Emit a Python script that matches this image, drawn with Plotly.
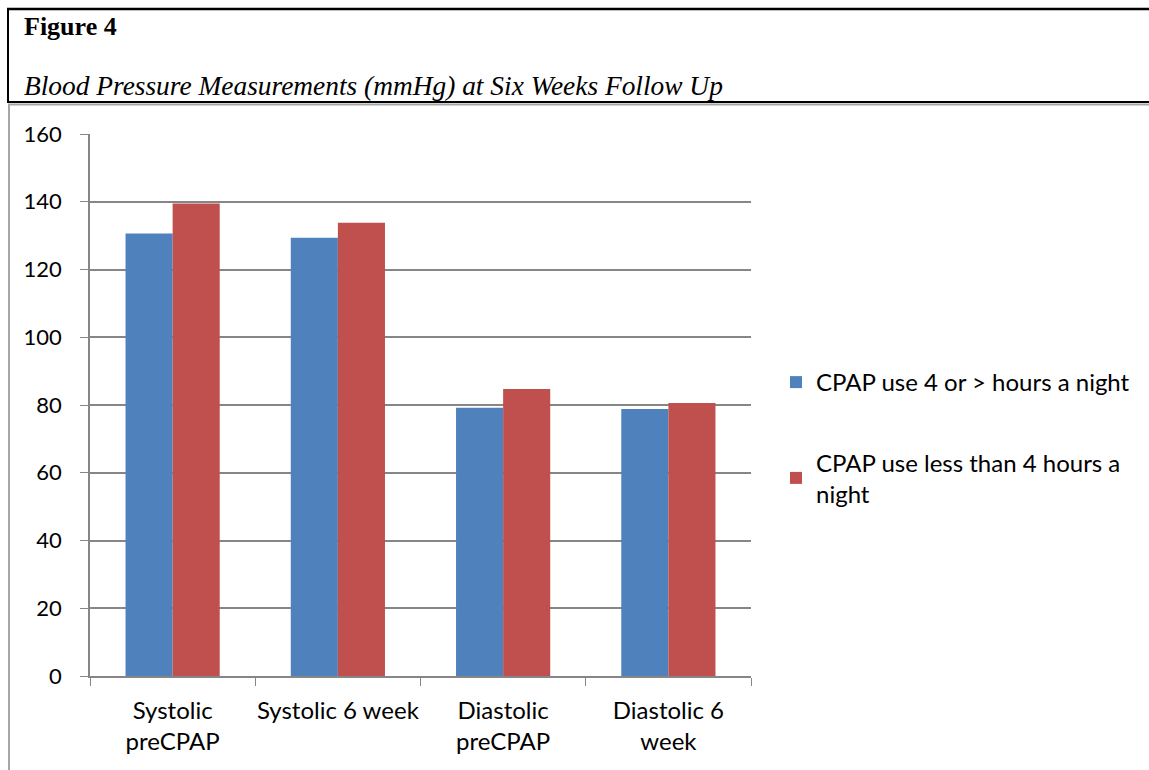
import plotly.graph_objects as go

categories = ["Systolic<br>preCPAP", "Systolic 6 week", "Diastolic<br>preCPAP", "Diastolic 6<br>week"]
series_names = ["CPAP use 4 or > hours a night", "CPAP use less than 4 hours a<br>night"]
values_high_use = [130.6, 129.4, 79.2, 78.8]
values_low_use = [139.5, 133.8, 84.7, 80.6]
colors = ["#4F81BD", "#C0504D"]
y_ticks = [0, 20, 40, 60, 80, 100, 120, 140, 160]

W, H = 1149, 770
L, R, T, B = 90, 751, 134, 676

fig = go.Figure()
for i, (name, vals) in enumerate(zip(series_names, [values_high_use, values_low_use])):
    fig.add_trace(go.Bar(
        x=categories, y=vals, name=name, marker_color=colors[i],
        marker_line_width=0, legendgroup=f"g{i}",
    ))

def px_x(p):
    return (p - L) / (R - L)

def px_y(p):
    return (B - p) / (B - T)

shapes = []
def line(x0, y0, x1, y1, color, width):
    shapes.append(dict(type="line", xref="paper", yref="paper",
                       x0=px_x(x0), y0=px_y(y0), x1=px_x(x1), y1=px_y(y1),
                       line=dict(color=color, width=width)))

line(7, 9, W, 9, "black", 2.5)
line(8, 9, 8, 102, "black", 2)
line(7, 102, W, 102, "black", 2)
line(8, 104.5, W, 104.5, "#a6a6a6", 2)
line(9, 104, 9, H, "#a6a6a6", 2)

fig.update_layout(
    width=W, height=H,
    margin=dict(l=L, r=W - R, t=T, b=H - B, autoexpand=False),
    paper_bgcolor="white", plot_bgcolor="white",
    barmode="group", bargap=0.43, bargroupgap=0,
    font=dict(family="Lato, Carlito, sans-serif", size=24, color="black"),
    shapes=shapes,
    showlegend=True,
    legend=dict(x=px_x(776), y=px_y(360), xanchor="left", yanchor="top",
                traceorder="grouped", tracegroupgap=46,
                font=dict(size=24), itemwidth=30, bgcolor="rgba(0,0,0,0)"),
    annotations=[
        dict(text="<b>Figure 4</b>", xref="paper", yref="paper",
             x=px_x(22), y=px_y(27), xanchor="left", yanchor="middle", showarrow=False,
             font=dict(family="Liberation Serif, Times New Roman, serif", size=26, color="black")),
        dict(text="<i>Blood Pressure Measurements (mmHg) at Six Weeks Follow Up</i>", xref="paper", yref="paper",
             x=px_x(22), y=px_y(86), xanchor="left", yanchor="middle", showarrow=False,
             font=dict(family="Liberation Serif, Times New Roman, serif", size=27.4, color="black")),
    ],
)

fig.update_yaxes(
    range=[0, 160], tickvals=y_ticks, showgrid=True, gridcolor="#868686", gridwidth=1.8,
    showline=True, linecolor="#868686", linewidth=1.8, ticks="outside", ticklen=8,
    tickcolor="#868686", ticklabelstandoff=14, zeroline=False, tickfont=dict(size=22),
)
fig.update_xaxes(
    showline=True, linecolor="#868686", linewidth=1.8, ticks="outside", ticklen=8,
    tickcolor="#868686", tickson="boundaries", ticklabelstandoff=12, showgrid=False,
    tickfont=dict(size=24), tickangle=0,
)

fig.write_html("out.html", config={"displayModeBar": False},
               post_script="document.body.style.margin='0';document.body.style.padding='0';document.body.style.overflow='hidden';")
